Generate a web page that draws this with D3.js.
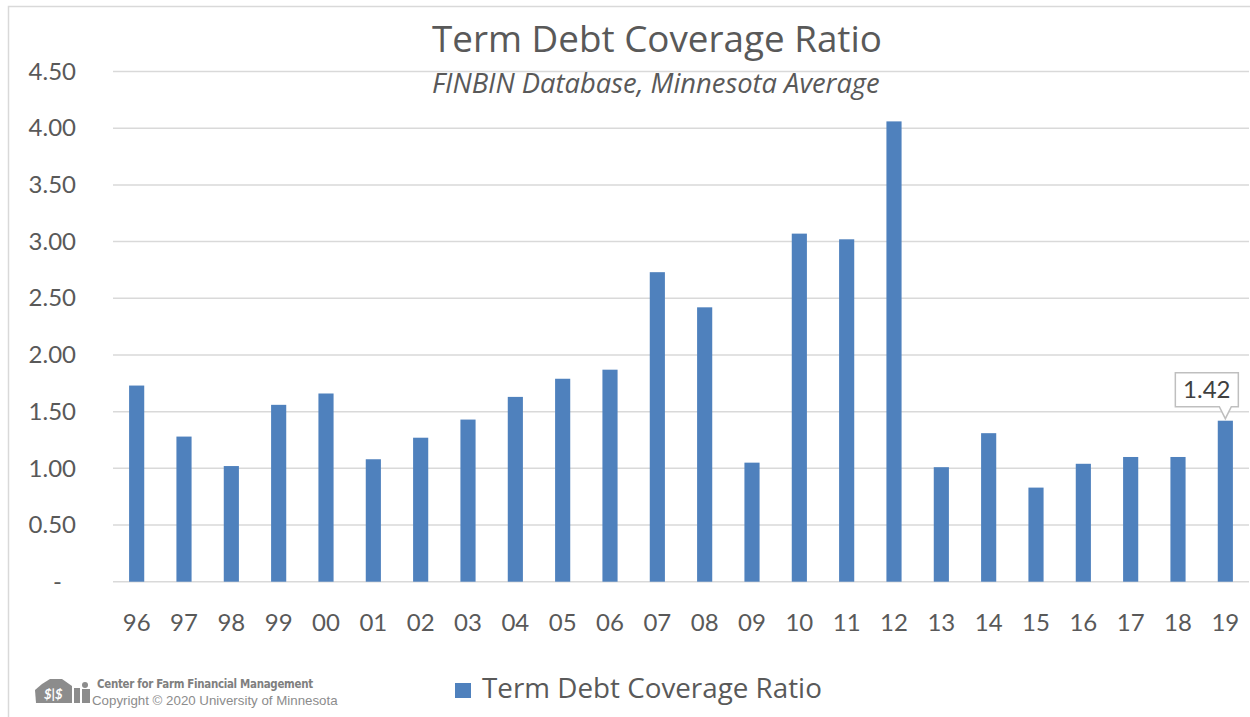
<!DOCTYPE html>
<html><head><meta charset="utf-8">
<script src="https://cdn.jsdelivr.net/npm/d3@7"></script>
<style>body{margin:0;background:#fff;} svg{display:block;font-family:Lato,"Open Sans",sans-serif;}</style>
</head><body><svg id="c" width="1250" height="717"></svg>
<script>
const years = ["96","97","98","99","00","01","02","03","04","05","06","07","08","09","10","11","12","13","14","15","16","17","18","19"];
const ratios = [1.73,1.28,1.02,1.56,1.66,1.08,1.27,1.43,1.63,1.79,1.87,2.73,2.42,1.05,3.07,3.02,4.06,1.01,1.31,0.83,1.04,1.10,1.10,1.42];
const yTicks = [0,0.5,1,1.5,2,2.5,3,3.5,4,4.5];
const labelledYear = "19";
const titleText = "Term Debt Coverage Ratio";
const subtitleText = "FINBIN Database, Minnesota Average";
const seriesName = "Term Debt Coverage Ratio";

const svg = d3.select("#c");
const m = {l:113, r:1249, t:71.5, b:581.7};
svg.append("rect").attr("x",8.5).attr("y",6.5).attr("width",1250).attr("height",720)
  .attr("fill","#fff").attr("stroke","#d9d9d9").attr("stroke-width",1.5);

// fit a text's font size so that it spans a target width
function fit(sel, w){
  const n = sel.node(); const fs = +sel.attr("font-size");
  const cur = n.getComputedTextLength();
  if (cur>0) sel.attr("font-size", fs*w/cur);
  return sel;
}

const x = d3.scaleBand().domain(years).range([m.l,m.r]).paddingInner(0.68).paddingOuter(0.34);
const y = d3.scaleLinear().domain([0,4.5]).range([m.b,m.t]);

// gridlines
svg.append("g").selectAll("line").data(yTicks).join("line")
  .attr("x1",m.l).attr("x2",m.r).attr("y1",d=>y(d)).attr("y2",d=>y(d))
  .attr("stroke","#d9d9d9").attr("stroke-width",1.5);

// y axis labels
const ya = svg.append("g").attr("transform",`translate(76,0)`)
  .call(d3.axisLeft(y).tickValues(yTicks).tickSize(0).tickPadding(0)
    .tickFormat(d=> d===0 ? "-" : d3.format(".2f")(d)));
ya.select(".domain").remove();
ya.selectAll("text").attr("font-size",24).attr("fill","#595959").attr("font-family","Lato,'Open Sans',sans-serif");
ya.selectAll(".tick").filter(d=>d===0).select("text").attr("dx",-14);

// bars
svg.append("g").selectAll("rect").data(ratios).join("rect")
  .attr("x",(d,i)=>x(years[i])).attr("width",x.bandwidth())
  .attr("y",d=>y(d)).attr("height",d=>y(0)-y(d)).attr("fill","#4f81bd");

// x axis labels
const xa = svg.append("g").attr("transform",`translate(0,${m.b})`)
  .call(d3.axisBottom(x).tickSize(0).tickPadding(32));
xa.select(".domain").remove();
xa.selectAll("text").attr("font-size",24).attr("fill","#595959").attr("font-family","Lato,'Open Sans',sans-serif");

// data label callout
const li = years.indexOf(labelledYear);
const cx = x(labelledYear)+x.bandwidth()/2, cy = y(ratios[li]);
const bw=63, bh=34, bx=cx-50, by=cy-48;
svg.append("path").attr("d",
  `M${bx},${by} H${bx+bw} V${by+bh} H${cx+6} L${cx},${cy-2} L${cx-6},${by+bh} H${bx} Z`)
  .attr("fill","#fff").attr("stroke","#bfbfbf").attr("stroke-width",1.5);
svg.append("text").attr("x",bx+bw/2).attr("y",by+bh/2+8).attr("text-anchor","middle")
  .attr("font-size",24).attr("fill","#404040").text(d3.format(".2f")(ratios[li]));

// titles
const f2 = "'Open Sans',Lato,sans-serif";
fit(svg.append("text").attr("x",432).attr("y",52).attr("font-family",f2)
  .attr("font-size",34).attr("fill","#595959").text(titleText), 450);
fit(svg.append("text").attr("x",432).attr("y",93).attr("font-family",f2)
  .attr("font-size",24).attr("font-style","italic").attr("fill","#595959").text(subtitleText), 448);

// legend
svg.append("rect").attr("x",455).attr("y",683).attr("width",16).attr("height",15).attr("fill","#4f81bd");
fit(svg.append("text").attr("x",482).attr("y",698).attr("font-family",f2)
  .attr("font-size",26).attr("fill","#595959").text(seriesName), 340);

// logo
const lg = svg.append("g").attr("fill","#8c8c8c");
lg.append("path").attr("d","M35,690 L42,684 L50,679 L62,679 L72,686 L72,703 L36,703 Z");
lg.append("path").attr("d","M74,688 L80,688 L80,703 L74,703 Z");
lg.append("circle").attr("cx",85).attr("cy",685).attr("r",3);
lg.append("rect").attr("x",82).attr("y",689).attr("width",8).attr("height",14);
lg.append("text").attr("x",44).attr("y",699).attr("font-size",13).attr("font-weight","bold").attr("fill","#fff").attr("font-style","italic").text("$|$");
fit(svg.append("text").attr("x",97).attr("y",688).attr("font-size",11.5).attr("font-weight","bold")
  .attr("fill","#7f7f7f").attr("font-family","'Liberation Sans Narrow','DejaVu Sans Condensed',sans-serif").attr("letter-spacing",-0.3)
  .text("Center for Farm Financial Management"), 216);
fit(svg.append("text").attr("x",92).attr("y",705).attr("font-size",12)
  .attr("fill","#8c8c8c").attr("font-family","'Liberation Sans',sans-serif")
  .text("Copyright \u00A9 2020 University of Minnesota"), 246);
</script></body></html>
